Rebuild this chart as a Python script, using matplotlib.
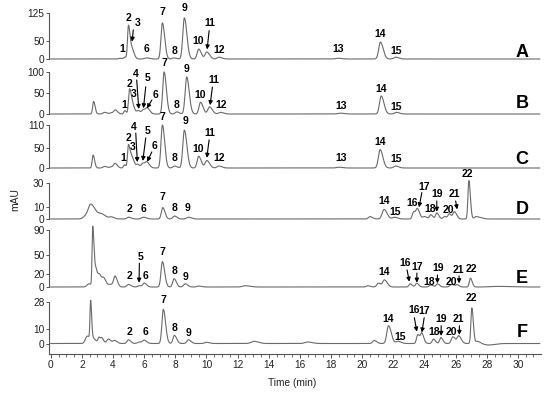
import numpy as np
import matplotlib
matplotlib.use("Agg")
import matplotlib.pyplot as plt

plt.rcParams['font.family'] = ['Liberation Sans', 'DejaVu Sans']

# ---------------- data (peak tables) ----------------
panel_names = ["A", "B", "C", "D", "E", "F"]

A_times   = [4.45, 4.75, 4.99, 5.20, 6.15, 7.17, 7.90, 8.58, 9.50, 10.02, 10.80, 18.45, 21.17, 22.15]
A_heights = [2, 5, 90, 28, 3, 98, 3, 112, 27, 19, 5, 2, 46, 5]
A_widths  = [.08, .06, .06, .09, .12, .09, .10, .10, .10, .11, .12, .15, .11, .12]

B_times   = [2.75, 3.45, 3.90, 4.15, 4.75, 5.05, 5.22, 5.62, 5.95, 6.20, 7.28, 8.09, 8.73, 9.62, 10.20, 10.90, 18.60, 21.22, 22.20]
B_heights = [30, 4, 3, 9, 8, 55, 25, 8, 10, 13, 100, 5, 88, 28, 17, 4, 2, 43, 4]
B_widths  = [.06, .10, .10, .09, .06, .06, .09, .09, .09, .10, .09, .10, .10, .10, .11, .12, .15, .11, .12]

C_times   = [2.72, 3.45, 3.90, 4.13, 4.73, 4.99, 5.20, 5.58, 5.92, 6.18, 7.17, 7.95, 8.58, 9.50, 10.02, 10.80, 18.50, 21.15, 22.15]
C_heights = [33, 4, 3, 11, 8, 58, 28, 9, 12, 14, 110, 5, 97, 30, 19, 5, 2, 47, 5]
C_widths  = [.06, .10, .10, .09, .06, .06, .09, .09, .09, .10, .09, .10, .10, .10, .11, .12, .15, .11, .12]

D_times   = [2.30, 2.55, 2.90, 3.30, 3.90, 4.99, 5.95, 7.19, 7.94, 8.84, 20.50, 21.40, 22.07, 23.30, 23.55, 24.00, 24.40, 24.79, 25.30, 25.60, 25.92, 26.85, 27.30, 27.60]
D_heights = [3, 9, 4, 2, 1.5, 1.5, 1.5, 9.5, 2.5, 1.5, 2, 8, 1.5, 6, 8, 2, 3.5, 5, 2, 4, 6, 32, 2, 1]
D_widths  = [.18, .14, .24, .18, .12, .10, .12, .09, .10, .12, .10, .12, .12, .08, .09, .10, .08, .08, .10, .08, .09, .06, .10, .12]

E_times   = [2.45, 2.69, 2.80, 2.95, 3.17, 3.42, 3.85, 4.13, 4.99, 5.69, 6.01, 7.17, 7.92, 8.63, 9.50, 12.50, 20.35, 21.04, 21.43, 23.08, 23.50, 24.40, 24.83, 25.75, 26.10, 26.95, 28.70]
E_heights = [5, 88, 25, 18, 12, 11, 4, 16, 4, 2, 6, 40, 13, 5, 1.5, 2, 2, 6, 11, 5, 6, 3, 5, 4, 3, 14, 1]
E_widths  = [.12, .04, .06, .10, .10, .10, .12, .09, .10, .10, .09, .09, .09, .10, .12, .18, .10, .10, .11, .08, .08, .10, .08, .12, .08, .07, .45]

F_times   = [2.35, 2.56, 2.75, 3.10, 3.30, 3.70, 4.10, 4.99, 5.70, 6.01, 7.23, 7.94, 8.84, 10.00, 13.05, 16.50, 20.77, 21.69, 22.30, 23.57, 23.83, 24.57, 25.05, 25.82, 26.20, 27.04, 27.40, 28.10]
F_heights = [5, 26, 3, 4, 3, 3, 2, 2.5, 1, 2, 23, 5.5, 2.5, .8, 1.5, 1, 2, 12, 1.5, 6, 6.5, 3, 4, 4.5, 5, 24, 1.5, -1]
F_widths  = [.12, .04, .10, .07, .07, .10, .10, .09, .12, .10, .09, .09, .10, .12, .18, .18, .10, .11, .12, .08, .08, .08, .08, .10, .10, .06, .10, .25]

y_ticks = {
    "A": [0, 50, 125], "B": [0, 50, 100], "C": [0, 50, 110],
    "D": [0, 10, 30], "E": [0, 20, 50, 90], "F": [0, 10, 28],
}

# peak labels: (text, time, value)
labels = {
    "A": [("1", 4.62, 13.6), ("2", 4.98, 98), ("3", 5.59, 85), ("6", 6.12, 12.8), ("7", 7.17, 115),
          ("8", 7.92, 9), ("9", 8.58, 124), ("10", 9.44, 36), ("11", 10.23, 83), ("12", 10.81, 11),
          ("13", 18.47, 12.8), ("14", 21.15, 53.5), ("15", 22.18, 8.2)],
    "B": [("1", 4.71, 9.5), ("2", 5.05, 59), ("3", 5.33, 36), ("4", 5.43, 83), ("5", 6.23, 73),
          ("6", 6.70, 33), ("7", 7.28, 109), ("8", 8.09, 9.5), ("9", 8.73, 95), ("10", 9.59, 33),
          ("11", 10.44, 69), ("12", 10.92, 9.5), ("13", 18.63, 7), ("14", 21.21, 47), ("15", 22.18, 5.5)],
    "C": [("1", 4.66, 12), ("2", 4.98, 65), ("3", 5.24, 40), ("4", 5.35, 93), ("5", 6.20, 82),
          ("6", 6.65, 44), ("7", 7.17, 118), ("8", 7.92, 13.5), ("9", 8.63, 107), ("10", 9.48, 36),
          ("11", 10.19, 78), ("12", 10.81, 13.5), ("13", 18.65, 12), ("14", 21.15, 53), ("15", 22.18, 10)],
    "D": [("2", 5.03, 4.2), ("6", 5.95, 4.2), ("7", 7.19, 14.4), ("8", 7.94, 5.3), ("9", 8.77, 5.3),
          ("14", 21.43, 11), ("15", 22.11, 1.4), ("16", 23.19, 9), ("17", 23.98, 22.8), ("18", 24.36, 4.2),
          ("19", 24.83, 16.4), ("20", 25.54, 3.3), ("21", 25.92, 16.4), ("22", 26.78, 33)],
    "E": [("2", 5.03, 10), ("5", 5.74, 40), ("6", 6.06, 10), ("7", 7.17, 48), ("8", 7.92, 17),
          ("9", 8.63, 8.4), ("14", 21.43, 16), ("16", 22.76, 29.5), ("17", 23.51, 24), ("18", 24.32, 0.5),
          ("19", 24.90, 21.6), ("20", 25.75, 0.5), ("21", 26.18, 19), ("22", 27.00, 20)],
    "F": [("2", 5.03, 4.6), ("6", 6.06, 4.6), ("7", 7.23, 26.3), ("8", 7.98, 7), ("9", 8.84, 3.5),
          ("14", 21.68, 13.3), ("15", 22.43, 1.2), ("16", 23.33, 19.5), ("17", 23.98, 18.3), ("18", 24.62, 4.2),
          ("19", 25.07, 13.3), ("20", 25.71, 4.2), ("21", 26.18, 13.3), ("22", 27.04, 27)],
}

# arrows: (tail time, tail value, tip time, tip value)
arrows = {
    "A": [(5.30, 79, 5.22, 47), (10.17, 77, 10.04, 26)],
    "B": [(5.52, 81, 5.65, 12), (6.10, 65, 5.95, 13.6), (6.49, 33, 6.17, 13.6), (10.38, 64, 10.23, 21)],
    "C": [(5.46, 89, 5.56, 15), (6.10, 77, 5.91, 18), (6.49, 41, 6.19, 16), (10.17, 72, 10.02, 26)],
    "D": [(23.83, 22, 23.65, 9.7), (24.79, 15, 24.79, 6), (26.00, 15, 26.10, 8)],
    "E": [(5.69, 37.5, 5.67, 6.8), (22.88, 27, 23.03, 8.4), (23.51, 22, 23.51, 6.8),
          (24.83, 19, 24.83, 5.8), (26.22, 17.4, 26.22, 5.8)],
    "F": [(23.35, 17.4, 23.51, 8), (23.98, 17.4, 23.83, 7.4), (25.07, 12, 25.07, 5.1), (26.24, 12, 26.24, 5.8)],
}

letter_value = {"A": 19, "B": 26, "C": 23, "D": 8, "E": 13.7, "F": 7.4}

peaks = {
    "A": (A_times, A_heights, A_widths), "B": (B_times, B_heights, B_widths),
    "C": (C_times, C_heights, C_widths), "D": (D_times, D_heights, D_widths),
    "E": (E_times, E_heights, E_widths), "F": (F_times, F_heights, F_widths),
}

# ---------------- layout (pixel rows: top tick, zero line, axes bottom) ----------------
W, H = 550, 397
layout = {
    "A": (13, 59, 61), "B": (72, 114, 116), "C": (125, 168, 170),
    "D": (183, 219, 221), "E": (230, 287, 289), "F": (302, 343.5, 353.5),
}
left_px, right_px = 49.2, 540.5
xlim = (-0.1, 31.45)

line_col = "#6a6a6a"
axis_col = "#555555"
text_col = "#222222"

t = np.linspace(0, 31.4, 5000)


def chromatogram(times, heights, widths):
    y = np.zeros_like(t)
    for c, h, w in zip(times, heights, widths):
        s = np.where(t < c, w, w * 1.6)
        y += h * np.exp(-0.5 * ((t - c) / s) ** 2)
    return y


fig = plt.figure(figsize=(W / 100, H / 100), dpi=100)

for name in panel_names:
    top, zero, bot = layout[name]
    vtop = y_ticks[name][-1]
    scale = (zero - top) / vtop
    lo = -(bot - zero) / scale
    ax = fig.add_axes([left_px / W, 1 - bot / H, (right_px - left_px) / W, (bot - top) / H])
    ax.set_xlim(*xlim)
    ax.set_ylim(lo, vtop)
    ax.patch.set_alpha(0)

    y = chromatogram(*peaks[name])
    ax.plot(t, y, color=line_col, lw=0.8, clip_on=False)

    for s in ["top", "right"]:
        ax.spines[s].set_visible(False)
    ax.spines["left"].set_color(axis_col)
    ax.spines["left"].set_linewidth(0.8)
    ax.spines["left"].set_bounds(lo if name == "F" else 0, vtop)
    ax.set_yticks(y_ticks[name])
    ax.tick_params(axis="y", direction="out", length=2.5, width=0.7, color=axis_col,
                   labelsize=7.3, labelcolor=text_col, pad=1)

    if name == "F":
        ax.spines["bottom"].set_color(axis_col)
        ax.spines["bottom"].set_linewidth(0.8)
        ax.set_xticks(np.arange(0, 31, 2))
        ax.set_xticks(np.arange(0, 31.5, 0.5), minor=True)
        ax.tick_params(axis="x", which="major", direction="out", length=3, width=0.7,
                       color=axis_col, labelsize=7.3, labelcolor=text_col, pad=2)
        ax.tick_params(axis="x", which="minor", direction="out", length=2, width=0.6, color=axis_col)
    else:
        ax.spines["bottom"].set_visible(False)
        ax.set_xticks([])

    for txt, x, v in labels[name]:
        ax.text(x, v, txt, ha="center", va="bottom", fontsize=7.5, fontweight="bold",
                color="black", clip_on=False)
    for x0, y0, x1, y1 in arrows[name]:
        ax.annotate("", xy=(x1, y1), xytext=(x0, y0), annotation_clip=False,
                    arrowprops=dict(arrowstyle="-|>", color="black", lw=0.8,
                                    mutation_scale=6, shrinkA=0, shrinkB=0))
    ax.text(30.25, letter_value[name], name, ha="center", va="center", fontsize=13,
            fontweight="bold", color="black")

fig.text(15 / W, 1 - 200 / H, "mAU", rotation=90, ha="center", va="center",
         fontsize=7.5, color=text_col)
fig.text(292.5 / W, 1 - 382.7 / H, "Time (min)", ha="center", va="center",
         fontsize=7.3, color=text_col)

fig.savefig("out.png", dpi=100)
